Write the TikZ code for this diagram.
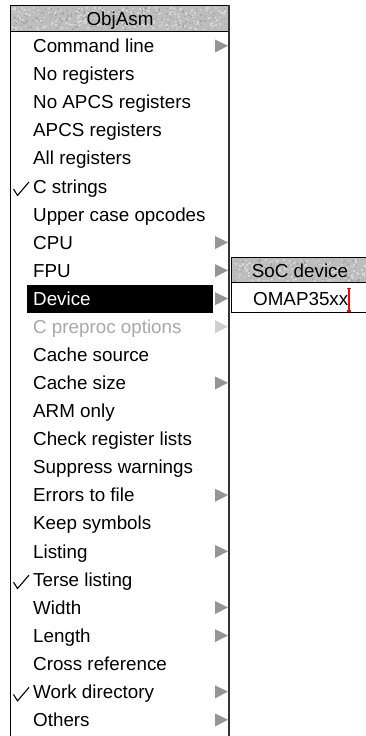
\documentclass[tikz,border=0pt]{standalone}
\usepackage{fontspec}
\setmainfont{Liberation Sans}
\definecolor{titlegray}{HTML}{BDBDBD}
\definecolor{specklight}{HTML}{D6D6D6}
\definecolor{speckdark}{HTML}{A8A8A8}
\definecolor{arrowgray}{HTML}{959595}
\definecolor{shadegray}{HTML}{A9A9A9}
\definecolor{shadearrow}{HTML}{CFCFCF}
\begin{document}
\begin{tikzpicture}[x=1pt,y=-1pt,
  menufont/.style={font=\fontsize{18.8}{20}\selectfont},
  item/.style={menufont, anchor=base west, inner sep=0pt, text=black},
  selitem/.style={item, text=white},
  greyitem/.style={item, text=shadegray},
  titletext/.style={menufont, anchor=base, inner sep=0pt, text=black},
  subarrow/.style={fill=arrowgray, draw=none},
  tick/.style={draw=black, line width=1.1pt, line join=miter},
  frame/.style={draw=black, line width=1pt}]
\useasboundingbox (0,0) rectangle (365,736);
\fill[white] (0,0) rectangle (365,736);
\pgfmathsetseed{11}
% main menu title bar
\fill[titlegray] (10.5,5.5) rectangle (229,31);
\foreach \k in {1,...,260}{
  \pgfmathsetmacro{\xx}{12+214*rnd}
  \pgfmathsetmacro{\yy}{7+22*rnd}
  \fill[specklight] (\xx,\yy) rectangle ++(2,1.5);
  \pgfmathsetmacro{\xx}{12+214*rnd}
  \pgfmathsetmacro{\yy}{7+22*rnd}
  \fill[speckdark] (\xx,\yy) rectangle ++(1.5,1.5);
}
\draw[frame] (10.5,5.5) rectangle (229,31);
\node[titletext] (title) at (120,25) {ObjAsm};
% main menu borders
\draw[frame] (10.5,31) -- (10.5,736);
\draw[line width=2pt, black!80] (229,5) -- (229,736);
% highlight of Device
\fill[black] (26.7,285) rectangle (213.3,313.2);
% menu items
\foreach \t/\s [count=\i from 0] in {Command line/item, No registers/item,
  No APCS registers/item, APCS registers/item, All registers/item,
  C strings/item, Upper case opcodes/item, CPU/item, FPU/item,
  Device/selitem, C preproc options/greyitem, Cache source/item,
  Cache size/item, ARM only/item, Check register lists/item,
  Suppress warnings/item, Errors to file/item, Keep symbols/item,
  Listing/item, Terse listing/item, Width/item, Length/item,
  Cross reference/item, Work directory/item, Others/item}
  \node[\s] (row\i) at (33,{32+28.08*\i+20.6}) {\t};
% submenu arrows
\foreach \i in {0,7,8,9,12,16,18,20,21,23,24}
  \fill[subarrow] (215,{32+28.08*\i+7.5}) -- (228,{32+28.08*\i+13.8}) -- (215,{32+28.08*\i+20.5}) -- cycle;
\fill[shadearrow] (215,{32+28.08*10+7.5}) -- (228,{32+28.08*10+13.8}) -- (215,{32+28.08*10+20.5}) -- cycle;
% ticks
\foreach \i in {5,19,23}
  \draw[tick] (13.5,{32+28.08*\i+16.6}) -- (17.5,{32+28.08*\i+23}) -- (29,{32+28.08*\i+9.6});
% submenu
\fill[titlegray] (231,257) rectangle (366,282);
\foreach \k in {1,...,150}{
  \pgfmathsetmacro{\xx}{232+132*rnd}
  \pgfmathsetmacro{\yy}{258.5+22*rnd}
  \fill[specklight] (\xx,\yy) rectangle ++(2,1.5);
  \pgfmathsetmacro{\xx}{232+132*rnd}
  \pgfmathsetmacro{\yy}{258.5+22*rnd}
  \fill[speckdark] (\xx,\yy) rectangle ++(1.5,1.5);
}
\draw[frame] (231,257) -- (366,257);
\draw[frame] (231,282) -- (366,282);
\draw[frame] (231,312.8) -- (366,312.8);
\draw[frame] (231,257) -- (231,312.8);
\node[titletext] (subtitle) at (300,277) {SoC device};
\node[item] (omap) at (253,305) {OMAP35xx};
% caret
\draw[red, line width=1.1pt] (349,288.5) -- (349,311)
  (346.8,288.5) -- (351.2,288.5) (346.8,311) -- (351.2,311);
\end{tikzpicture}
\end{document}
